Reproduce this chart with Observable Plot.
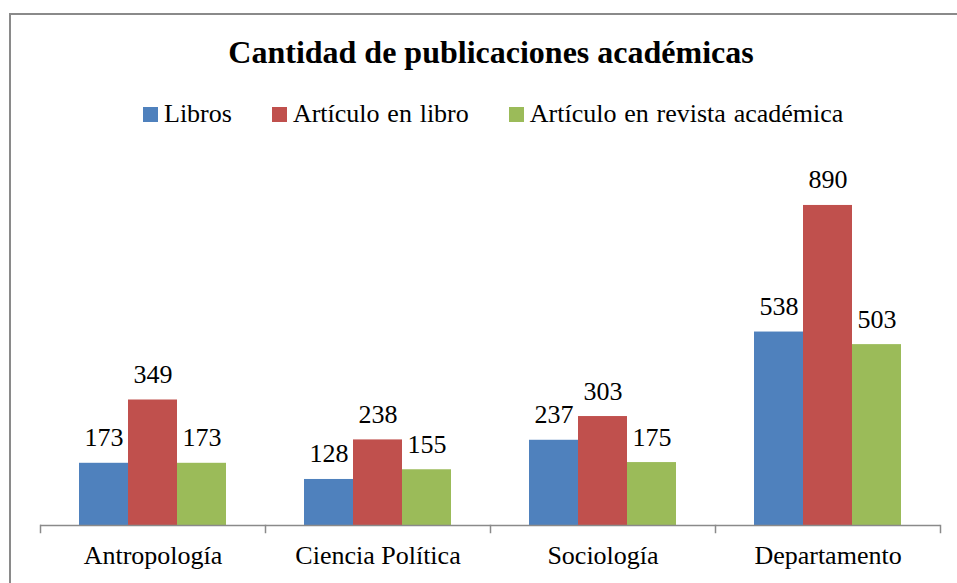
<!DOCTYPE html>
<html><head><meta charset="utf-8">
<script src="https://cdn.jsdelivr.net/npm/d3@7"></script>
<script src="https://cdn.jsdelivr.net/npm/@observablehq/plot@0.6"></script>
<style>
body{margin:0;background:#fff;width:957px;height:583px;overflow:hidden;position:relative;font-family:"Liberation Serif","Times New Roman",serif;color:#000;}
#border{position:absolute;left:9px;top:13px;width:1000px;height:600px;border-left:2px solid #8a8a8a;border-top:2px solid #8a8a8a;}
#title{position:absolute;left:9px;width:964px;top:36px;text-align:center;font-weight:bold;font-size:32px;line-height:32px;white-space:nowrap;}
#legend{position:absolute;left:143px;top:101px;display:flex;font-size:26px;line-height:26px;white-space:nowrap;word-spacing:1.3px;}
.item{display:flex;align-items:center;margin-right:40px;}
.sw{width:15px;height:15px;margin-right:6px;}
#chart{position:absolute;left:0;top:140px;}
</style></head>
<body>
<div id="border"></div>
<div id="title">Cantidad de publicaciones académicas</div>
<div id="legend"></div>
<div id="chart"></div>
<script>
const categories = ["Antropología", "Ciencia Política", "Sociología", "Departamento"];
const series = ["Libros", "Artículo en libro", "Artículo en revista académica"];
const libros = [173, 128, 237, 538];
const articuloLibro = [349, 238, 303, 890];
const articuloRevista = [173, 155, 175, 503];
const colors = ["#4F81BD", "#C0504D", "#9BBB59"];

const valuesBySeries = [libros, articuloLibro, articuloRevista];
const data = [];
categories.forEach((c, i) => {
  series.forEach((s, j) => {
    data.push({cat: c, series: s, value: valuesBySeries[j][i]});
  });
});

const legend = document.getElementById("legend");
series.forEach((s, j) => {
  const it = document.createElement("div");
  it.className = "item";
  const sw = document.createElement("div");
  sw.className = "sw";
  sw.style.background = colors[j];
  const t = document.createElement("span");
  t.textContent = s;
  it.appendChild(sw); it.appendChild(t);
  legend.appendChild(it);
});

const H = 443, MT = 25.4, MB = 58;
const plot = Plot.plot({
  width: 957, height: H,
  marginTop: MT, marginBottom: MB, marginLeft: 39, marginRight: 16,
  style: {fontFamily: "Liberation Serif, Times New Roman, serif", fontSize: "26px", background: "transparent", color: "#000"},
  fx: {domain: categories, padding: 0, label: null},
  x: {domain: series, paddingInner: 0, paddingOuter: 0.755, axis: null},
  y: {domain: [0, 1000], axis: null},
  color: {domain: series, range: colors},
  marks: [
    Plot.barY(data, {fx: "cat", x: "series", y: "value", fill: "series"}),
    Plot.text(data, {fx: "cat", x: "series", y: "value", text: d => String(d.value), lineAnchor: "bottom", dy: -17, fontSize: 26, fill: "#000"}),
    Plot.ruleY([0], {stroke: "#8a8a8a", strokeWidth: 1.5}),
    Plot.frame({anchor: "left", stroke: "#8a8a8a", strokeWidth: 1.5, insetTop: H - MT - MB, insetBottom: -7}),
    Plot.frame({anchor: "right", facet: "super", stroke: "#8a8a8a", strokeWidth: 1.5, insetTop: H - MT - MB, insetBottom: -7}),
    Plot.axisFx({anchor: "bottom", tickSize: 0, tickPadding: 20, fontSize: 26, label: null, fill: "#000"})
  ]
});
document.getElementById("chart").appendChild(plot);
</script>
</body></html>
